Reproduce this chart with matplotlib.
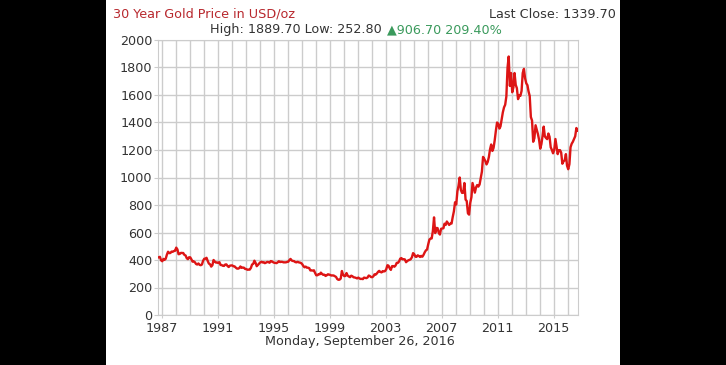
import matplotlib
matplotlib.use("Agg")
import matplotlib.pyplot as plt
import matplotlib.dates as mdates
from matplotlib.patches import Rectangle
import pandas as pd

# monthly gold price (USD/oz), Oct 1986 .. Sep 2016
p1986 = [423, 398, 391]
p1987 = [408, 401, 409, 438, 460, 450, 451, 461, 460, 465, 467, 490]
p1988 = [477, 442, 444, 452, 451, 451, 437, 433, 413, 406, 420, 419]
p1989 = [404, 388, 390, 384, 371, 367, 375, 365, 362, 367, 394, 409]
p1990 = [410, 416, 393, 374, 369, 352, 362, 400, 389, 381, 382, 378]
p1991 = [384, 364, 363, 358, 357, 367, 368, 356, 349, 359, 360, 361]
p1992 = [354, 354, 345, 338, 337, 341, 353, 343, 345, 344, 335, 334]
p1993 = [329, 330, 330, 342, 367, 372, 395, 379, 355, 364, 374, 383]
p1994 = [387, 382, 384, 377, 381, 386, 385, 380, 392, 390, 384, 380]
p1995 = [379, 377, 383, 391, 385, 387, 386, 383, 383, 383, 386, 387]
p1996 = [400, 408, 396, 393, 392, 385, 383, 387, 383, 381, 378, 369]
p1997 = [355, 347, 352, 344, 344, 341, 324, 324, 323, 325, 306, 289]
p1998 = [289, 297, 296, 308, 299, 292, 293, 284, 289, 296, 294, 291]
p1999 = [287, 288, 287, 282, 277, 262, 256, 257, 265, 320, 293, 283]
p2000 = [284, 305, 286, 280, 275, 286, 282, 274, 273, 270, 266, 272]
p2001 = [266, 262, 263, 261, 272, 270, 268, 273, 287, 283, 276, 275]
p2002 = [282, 296, 294, 302, 314, 321, 313, 310, 319, 317, 319, 333]
p2003 = [362, 359, 340, 328, 355, 356, 351, 360, 379, 379, 389, 410]
p2004 = [414, 405, 406, 404, 384, 392, 398, 401, 406, 420, 450, 442]
p2005 = [424, 423, 434, 429, 422, 430, 424, 438, 456, 470, 476, 515]
p2006 = [549, 555, 557, 610, 710, 596, 633, 632, 598, 585, 627, 629]
p2007 = [631, 664, 655, 680, 667, 655, 665, 665, 712, 754, 820, 803]
p2008 = [900, 940, 1000, 909, 888, 889, 960, 839, 829, 740, 730, 816]
p2009 = [858, 960, 924, 890, 928, 945, 934, 949, 996, 1043, 1150, 1135]
p2010 = [1118, 1095, 1113, 1148, 1205, 1240, 1193, 1215, 1271, 1342, 1400, 1391]
p2011 = [1356, 1372, 1424, 1474, 1510, 1529, 1590, 1800, 1880, 1666, 1760, 1620]
p2012 = [1656, 1760, 1674, 1650, 1570, 1596, 1594, 1630, 1760, 1790, 1722, 1685]
p2013 = [1671, 1627, 1593, 1440, 1414, 1260, 1286, 1380, 1349, 1316, 1275, 1210]
p2014 = [1244, 1300, 1370, 1299, 1287, 1279, 1320, 1296, 1220, 1200, 1176, 1200]
p2015 = [1280, 1227, 1170, 1198, 1199, 1181, 1100, 1118, 1125, 1170, 1086, 1060]
p2016 = [1097, 1220, 1246, 1260, 1280, 1300, 1360, 1341, 1340]

first_close = 418.0
last_close = 1339.70
start_date = "1986-09-26"
end_date = "2016-09-26"
tick_years = [1987, 1991, 1995, 1999, 2003, 2007, 2011, 2015]
y_ticks = [0, 200, 400, 600, 800, 1000, 1200, 1400, 1600, 1800, 2000]

prices = (p1986 + p1987 + p1988 + p1989 + p1990 + p1991 + p1992 + p1993 + p1994
          + p1995 + p1996 + p1997 + p1998 + p1999 + p2000 + p2001 + p2002 + p2003
          + p2004 + p2005 + p2006 + p2007 + p2008 + p2009 + p2010 + p2011 + p2012
          + p2013 + p2014 + p2015 + p2016)
mid = pd.date_range("1986-10-15", periods=len(prices), freq="MS") + pd.Timedelta(days=14)
dates = [pd.Timestamp(start_date)] + list(mid) + [pd.Timestamp(end_date)]
values = [first_close] + prices + [last_close]

W, H = 726, 365
fig = plt.figure(figsize=(W / 100, H / 100), dpi=100, facecolor="black")
fig.patches.append(Rectangle((106 / W, 0), (620 - 106) / W, 1, transform=fig.transFigure,
                             facecolor="white", edgecolor="none", zorder=-5))

ax = fig.add_axes([158 / W, 1 - 315 / H, (578 - 158) / W, (315 - 40) / H])
ax.set_facecolor("white")
ax.plot(dates, values, color="#dd1515", lw=1.7, zorder=3)

ax.set_xlim(pd.Timestamp(start_date), pd.Timestamp(end_date))
ax.set_ylim(0, 2000)
ax.set_yticks(y_ticks)
ax.set_xticks([pd.Timestamp(f"{y}-01-01") for y in tick_years])
ax.set_xticklabels([str(y) for y in tick_years])
ax.xaxis.set_minor_locator(mdates.YearLocator(1))

ax.grid(True, which="both", axis="x", color="#cccccc", lw=1)
ax.grid(True, which="major", axis="y", color="#cccccc", lw=1)
ax.set_axisbelow(True)
for s in ax.spines.values():
    s.set_color("#cccccc")
ax.tick_params(axis="both", which="major", colors="#cccccc", labelcolor="#333333",
               labelsize=9.2, length=3, pad=1)
ax.tick_params(axis="x", which="major", length=2.5, pad=2.5)
ax.tick_params(axis="x", which="minor", length=0)

txt = "#333333"
fs = 9.2
fig.text(113 / W, 1 - 14 / H, "30 Year Gold Price in USD/oz", color="#b8282e",
         fontsize=fs, va="center", ha="left")
fig.text(616 / W, 1 - 14 / H, "Last Close: 1339.70", color=txt,
         fontsize=fs, va="center", ha="right")
fig.text(386 / W, 1 - 30 / H, "High: 1889.70 Low: 252.80 ", color=txt,
         fontsize=fs, va="center", ha="right")
fig.text(387 / W, 1 - 30 / H, "\u25b2906.70 209.40%", color="#3a9a5c",
         fontsize=fs, va="center", ha="left")
fig.text(360 / W, 1 - 341 / H, "Monday, September 26, 2016", color=txt,
         fontsize=fs, va="center", ha="center")

fig.savefig("out.png", dpi=100, facecolor=fig.get_facecolor())
